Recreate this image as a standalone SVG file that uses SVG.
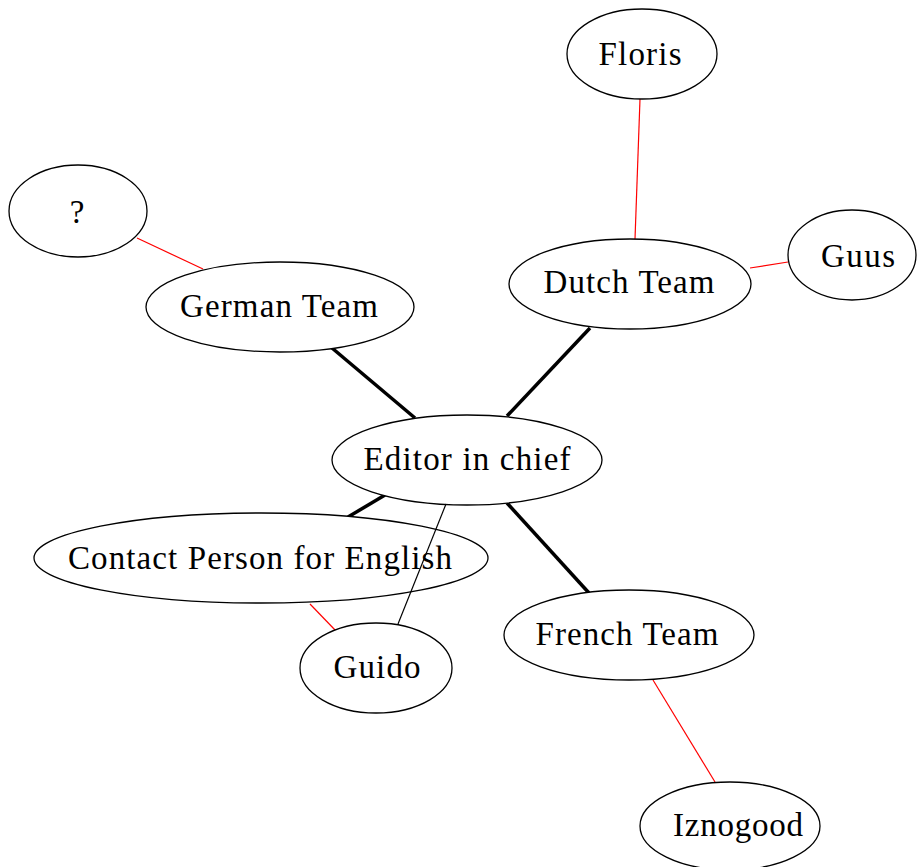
<svg xmlns="http://www.w3.org/2000/svg" width="919" height="867" viewBox="0 0 919 867">
  <style>
    .node ellipse { fill: #ffffff; stroke: #000000; stroke-width: 1.3; }
    .node text { font-family: "Liberation Serif", "Times New Roman", serif; font-size: 33px; fill: #000000; text-anchor: middle; }
    .edge { fill: none; stroke-linecap: butt; }
    .main { stroke: #000000; stroke-width: 3.5; }
    .thin { stroke: #000000; stroke-width: 1.2; }
    .member { stroke: #ff0000; stroke-width: 1.2; }
  </style>
  <rect width="919" height="867" fill="#ffffff"/>

  <!-- connectors -->
  <g id="edges">
    <line class="edge main" x1="415" y1="418" x2="332" y2="348"/>
    <line class="edge main" x1="507" y1="416" x2="590" y2="328"/>
    <line class="edge main" x1="385" y1="495" x2="348" y2="517"/>
    <line class="edge main" x1="507" y1="503" x2="589" y2="593"/>
    <line class="edge member" x1="137" y1="238" x2="203" y2="269"/>
    <line class="edge member" x1="640" y1="99" x2="635" y2="239"/>
    <line class="edge member" x1="750" y1="268" x2="788" y2="262"/>
    <line class="edge member" x1="653" y1="680" x2="715" y2="782"/>
    <line class="edge member" x1="310" y1="604" x2="336" y2="631"/>
  </g>

  <g id="node-questionmark" class="node">
    <ellipse cx="78" cy="211" rx="69" ry="46"/>
    <text x="77" y="223">?</text>
  </g>
  <g id="node-german" class="node">
    <ellipse cx="280" cy="307" rx="134" ry="45"/>
    <text x="279" y="317" textLength="198" lengthAdjust="spacing">German Team</text>
  </g>
  <g id="node-floris" class="node">
    <ellipse cx="642" cy="54" rx="75" ry="45"/>
    <text x="640" y="65" textLength="83" lengthAdjust="spacing">Floris</text>
  </g>
  <g id="node-dutch" class="node">
    <ellipse cx="630" cy="284" rx="121" ry="45"/>
    <text x="629" y="293" textLength="171" lengthAdjust="spacing">Dutch Team</text>
  </g>
  <g id="node-guus" class="node">
    <ellipse cx="852" cy="255" rx="64" ry="45"/>
    <text x="858" y="267" textLength="74" lengthAdjust="spacing">Guus</text>
  </g>
  <g id="node-editor" class="node">
    <ellipse cx="467" cy="460" rx="135" ry="45"/>
    <text x="467" y="470" textLength="207" lengthAdjust="spacing">Editor in chief</text>
  </g>
  <g id="node-contact" class="node">
    <ellipse cx="261" cy="558" rx="227" ry="45"/>
    <text x="260" y="569" textLength="384" lengthAdjust="spacing">Contact Person for English</text>
  </g>
  <!-- the editor–Guido link runs over the contact node -->
  <g id="edges-over">
    <line class="edge thin" x1="446" y1="504" x2="398" y2="624"/>
  </g>
  <g id="node-guido" class="node">
    <ellipse cx="376" cy="668" rx="76" ry="45"/>
    <text x="377" y="678" textLength="87" lengthAdjust="spacing">Guido</text>
  </g>
  <g id="node-french" class="node">
    <ellipse cx="629" cy="635" rx="125" ry="45"/>
    <text x="627" y="645" textLength="183" lengthAdjust="spacing">French Team</text>
  </g>
  <g id="node-iznogood" class="node">
    <ellipse cx="730" cy="826" rx="90" ry="44"/>
    <text x="738" y="836" textLength="130" lengthAdjust="spacing">Iznogood</text>
  </g>
</svg>
